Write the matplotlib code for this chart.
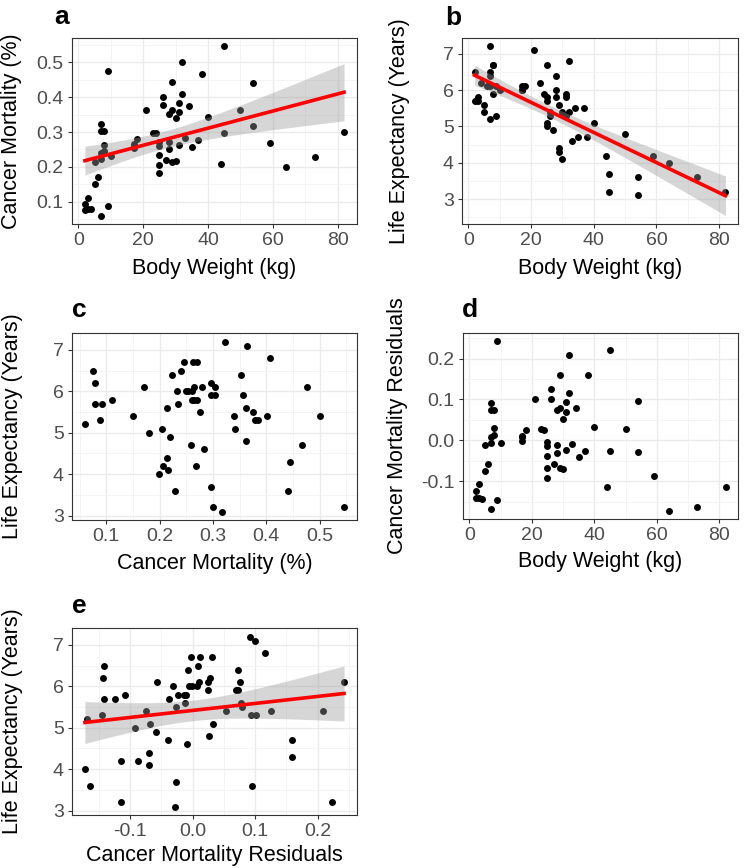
import numpy as np
import matplotlib
matplotlib.use("Agg")
import matplotlib.pyplot as plt
from matplotlib.ticker import MultipleLocator, FormatStrFormatter


# ==============================
# DATA (one entry per species)
# ==============================

body_weight = [2, 2, 3, 3, 4, 5, 5, 6, 7, 7, 7, 7, 7, 8, 8, 8, 9, 9, 10,
               17, 17, 17, 18, 21, 23, 24, 25, 25, 25, 25, 25, 26, 26, 27,
               28, 28, 28, 29, 29, 29, 30, 30, 31, 31, 31, 32, 32, 33, 34,
               35, 37, 38, 40, 44, 45, 45, 50, 54, 54, 59, 64, 73, 82]

cancer_mortality = [0.076, 0.092, 0.111, 0.078, 0.078, 0.213, 0.150, 0.170,
                    0.322, 0.304, 0.240, 0.223, 0.060, 0.304, 0.263, 0.245,
                    0.476, 0.088, 0.232, 0.265, 0.261, 0.253, 0.280, 0.364,
                    0.297, 0.296, 0.270, 0.260, 0.235, 0.205, 0.181, 0.402,
                    0.379, 0.219, 0.353, 0.270, 0.250, 0.444, 0.362, 0.214,
                    0.340, 0.216, 0.384, 0.357, 0.264, 0.500, 0.408, 0.284,
                    0.375, 0.258, 0.276, 0.467, 0.342, 0.207, 0.546, 0.296,
                    0.362, 0.440, 0.317, 0.269, 0.199, 0.229, 0.300]

mortality_resid = [-0.142, -0.124, -0.108, -0.141, -0.143, -0.012, -0.074,
                   -0.057, 0.092, 0.075, 0.009, -0.007, -0.169, 0.073, 0.031,
                   0.012, 0.242, -0.145, -0.006, 0.011, 0.007, -0.001, 0.024,
                   0.100, 0.028, 0.025, -0.003, -0.013, -0.038, -0.068,
                   -0.092, 0.125, 0.101, -0.059, 0.073, -0.011, -0.031, 0.159,
                   0.078, -0.069, 0.053, -0.070, 0.094, 0.069, -0.024, 0.208,
                   0.116, -0.009, 0.079, -0.040, -0.027, 0.159, 0.032, -0.114,
                   0.222, -0.027, 0.027, 0.095, -0.028, -0.088, -0.172,
                   -0.164, -0.115]

life_expectancy = [6.5, 5.7, 5.8, 5.7, 6.2, 5.6, 5.4, 6.1, 7.2, 6.1, 6.5,
                   6.4, 5.2, 5.9, 6.7, 6.7, 6.1, 5.3, 6.0, 6.1, 6.0, 6.0, 6.1,
                   7.1, 6.2, 5.9, 6.7, 5.8, 5.7, 5.1, 5.0, 5.4, 5.3, 4.9, 6.4,
                   5.8, 6.0, 4.3, 5.6, 4.4, 5.4, 4.1, 5.3, 5.9, 5.8, 5.4, 6.8,
                   4.6, 5.5, 4.7, 5.5, 4.7, 5.1, 4.2, 3.2, 3.7, 4.8, 3.6, 3.1,
                   4.2, 4.0, 3.6, 3.2]


# ==============================
# STYLE SETTINGS
# ==============================

plt.rcParams["font.family"] = ["Liberation Sans", "DejaVu Sans"]
plt.rcParams["axes.unicode_minus"] = False

T_CRIT = 2.0          # t quantile for the 95% band (df = 61)
TICK_SIZE = 14
TITLE_SIZE = 15.5
LETTER_SIZE = 19
W, H = 749, 868


def fit_band(x, y, n_grid=100):
    """Linear fit with a 95% confidence band, like geom_smooth(method='lm')."""
    x = np.asarray(x, float)
    y = np.asarray(y, float)
    slope, inter = np.polyfit(x, y, 1)
    res = y - (inter + slope * x)
    n = len(x)
    s = np.sqrt(np.sum(res ** 2) / (n - 2))
    sxx = np.sum((x - x.mean()) ** 2)
    gx = np.linspace(x.min(), x.max(), n_grid)
    gy = inter + slope * gx
    se = s * np.sqrt(1 / n + (gx - x.mean()) ** 2 / sxx)
    return gx, gy, gy - T_CRIT * se, gy + T_CRIT * se


def make_panel(rect_px, x, y, xstep, ystep, xfmt, yfmt, xlabel, ylabel,
               xlab_y, ylab_x, smooth=False):
    left, top, right, bottom = rect_px
    ax = fig.add_axes([left / W, 1 - bottom / H, (right - left) / W,
                       (bottom - top) / H])
    ax.scatter(x, y, s=25, color="black", linewidths=0, zorder=2)
    if smooth:
        gx, gy, lo, hi = fit_band(x, y)
        ax.fill_between(gx, lo, hi, color="#999999", alpha=0.4,
                        linewidth=0, zorder=3)
        ax.plot(gx, gy, color="#FF0000", lw=2.6, zorder=4)
    ax.margins(0.05)

    ax.xaxis.set_major_locator(MultipleLocator(xstep))
    ax.xaxis.set_minor_locator(MultipleLocator(xstep / 2))
    ax.yaxis.set_major_locator(MultipleLocator(ystep))
    ax.yaxis.set_minor_locator(MultipleLocator(ystep / 2))
    ax.xaxis.set_major_formatter(FormatStrFormatter(xfmt))
    ax.yaxis.set_major_formatter(FormatStrFormatter(yfmt))

    ax.grid(which="major", color="#EBEBEB", lw=1.0)
    ax.grid(which="minor", color="#F3F3F3", lw=0.6)
    ax.set_axisbelow(True)
    for sp in ax.spines.values():
        sp.set_color("#333333")
        sp.set_linewidth(0.8)
    ax.tick_params(which="major", length=3, width=0.8, color="#333333",
                   labelsize=TICK_SIZE, labelcolor="#4D4D4D", pad=3)
    ax.tick_params(which="minor", length=0)

    ax.set_xlabel(xlabel, fontsize=TITLE_SIZE, color="black")
    ax.set_ylabel(ylabel, fontsize=TITLE_SIZE, color="black")
    ax.xaxis.set_label_coords(0.5, xlab_y)
    ax.yaxis.set_label_coords(ylab_x, 0.5)
    return ax


# ==============================
# FIGURE
# ==============================

fig = plt.figure(figsize=(W / 100, H / 100), dpi=100)

make_panel((72, 38, 357, 224), body_weight, cancer_mortality, 20, 0.1,
           "%d", "%.1f", "Body Weight (kg)", "Cancer Mortality (%)",
           -0.185, -0.175, smooth=True)
make_panel((462, 38, 738, 224), body_weight, life_expectancy, 20, 1,
           "%d", "%d", "Body Weight (kg)", "Life Expectancy (Years)",
           -0.185, -0.19, smooth=True)
make_panel((72, 333, 357, 520), cancer_mortality, life_expectancy, 0.1, 1,
           "%.1f", "%d", "Cancer Mortality (%)", "Life Expectancy (Years)",
           -0.175, -0.172)
make_panel((463, 333, 738, 519), body_weight, mortality_resid, 20, 0.1,
           "%d", "%.1f", "Body Weight (kg)", "Cancer Mortality Residuals",
           -0.17, -0.2)
make_panel((72, 628, 357, 815), mortality_resid, life_expectancy, 0.1, 1,
           "%.1f", "%d", "Cancer Mortality Residuals", "Life Expectancy (Years)",
           -0.16, -0.172, smooth=True)

# panel letters
for letter, lx, ly in [("a", 54, 24), ("b", 445, 25), ("c", 72, 317),
                       ("d", 462, 317), ("e", 72, 613)]:
    fig.text(lx / W, 1 - ly / H, letter, fontsize=LETTER_SIZE,
             fontweight="bold", va="baseline", ha="left")

fig.savefig("out.png", dpi=100)
plt.close(fig)
